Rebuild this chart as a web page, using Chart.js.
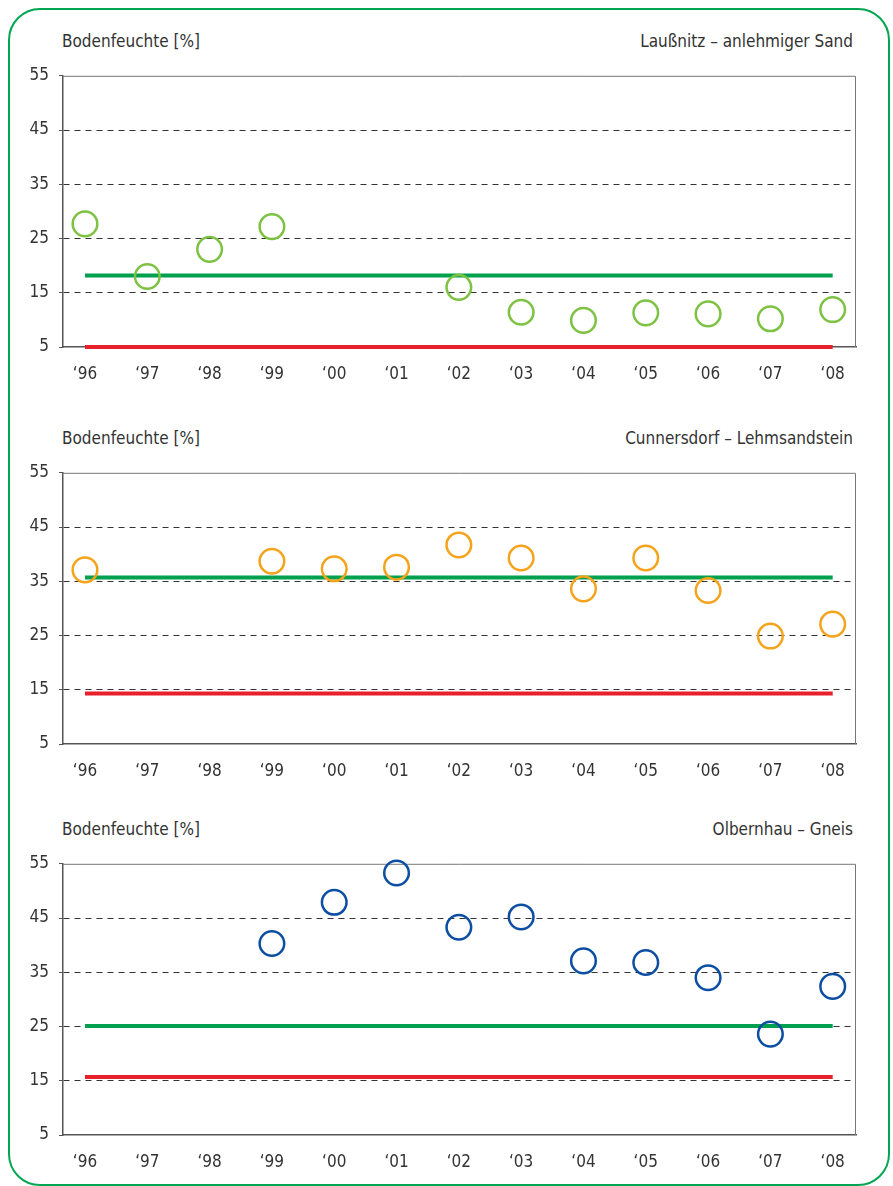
<!DOCTYPE html>
<html lang="de">
  <head>
    <meta charset="UTF-8" />
    <title>Bodenfeuchte</title>
    <script src="https://cdn.jsdelivr.net/npm/chart.js"></script>
    <style>
      body {
        margin: 0;
        background: #fff;
        width: 893px;
        height: 1186px;
        position: relative;
        overflow: hidden;
        font-family: "DejaVu Sans Condensed", "Liberation Sans", sans-serif;
        color: #333;
      }

      .frame {
        position: absolute;
        left: 8px;
        top: 8px;
        width: 882px;
        height: 1178px;
        border: 2.5px solid #00a651;
        border-radius: 32px;
        box-sizing: border-box;
      }

      .title {
        position: absolute;
        font-size: 17px;
        line-height: 18px;
        white-space: nowrap;
      }

      .title.left {
        left: 62px;
      }

      .title.right {
        right: 40px;
      }

      canvas {
        position: absolute;
        left: 0;
      }
    </style>
  </head>
  <body>
    <div class="frame"></div>

    <div class="title left" style="top: 32px">Bodenfeuchte [%]</div>
    <div class="title right" style="top: 32px">Laußnitz – anlehmiger Sand</div>
    <canvas id="chart1" width="893" height="326" style="top: 61px"></canvas>

    <div class="title left" style="top: 429px">Bodenfeuchte [%]</div>
    <div class="title right" style="top: 429px">Cunnersdorf – Lehmsandstein</div>
    <canvas id="chart2" width="893" height="326" style="top: 458px"></canvas>

    <div class="title left" style="top: 820px">Bodenfeuchte [%]</div>
    <div class="title right" style="top: 820px">Olbernhau – Gneis</div>
    <canvas id="chart3" width="893" height="326" style="top: 849px"></canvas>

    <script>
      const years = ["‘96", "‘97", "‘98", "‘99", "‘00", "‘01", "‘02", "‘03", "‘04", "‘05", "‘06", "‘07", "‘08"];
      const yTicks = [5, 15, 25, 35, 45, 55];

      // Laußnitz – anlehmiger Sand
      const laussnitz = [27.7, 18.0, 23.0, 27.2, null, null, 16.0, 11.4, 9.9, 11.3, 11.1, 10.2, 11.9];
      const laussnitzGreen = 18.2;
      const laussnitzRed = 5.0;

      // Cunnersdorf – Lehmsandstein
      const cunnersdorf = [37.1, null, null, 38.7, 37.3, 37.6, 41.7, 39.3, 33.6, 39.3, 33.3, 24.9, 27.1];
      const cunnersdorfGreen = 35.7;
      const cunnersdorfRed = 14.3;

      // Olbernhau – Gneis
      const olbernhau = [null, null, null, 40.3, 47.9, 53.3, 43.3, 45.2, 37.1, 36.8, 34.0, 23.6, 32.4];
      const olbernhauGreen = 25.1;
      const olbernhauRed = 15.7;

      const FONT = "'DejaVu Sans Condensed', 'Liberation Sans', sans-serif";

      // thin frame on top and right of the plot area
      const plotFrame = {
        id: "plotFrame",
        beforeDatasetsDraw(chart) {
          const { ctx, chartArea: a } = chart;
          ctx.save();
          ctx.strokeStyle = "#777";
          ctx.lineWidth = 1;
          ctx.beginPath();
          ctx.moveTo(a.left, a.top + 0.5);
          ctx.lineTo(a.right - 0.5, a.top + 0.5);
          ctx.lineTo(a.right - 0.5, a.bottom);
          ctx.stroke();
          ctx.restore();
        },
      };

      function levelLine(value, color) {
        return {
          type: "line",
          data: [
            { x: 0, y: value },
            { x: years.length - 1, y: value },
          ],
          borderColor: color,
          borderWidth: 4,
          borderCapStyle: "butt",
          pointRadius: 0,
          clip: false,
          order: 2,
        };
      }

      function makeChart(id, values, green, red, markerColor) {
        const points = values.map((v, i) => ({ x: i, y: v }));
        new Chart(document.getElementById(id), {
          type: "scatter",
          data: {
            datasets: [
              {
                data: points,
                showLine: false,
                pointStyle: "circle",
                pointRadius: 12.3,
                pointBorderWidth: 2.5,
                pointBorderColor: markerColor,
                pointBackgroundColor: "rgba(0,0,0,0)",
                clip: false,
                order: 1,
              },
              levelLine(green, "#00a04f"),
              levelLine(red, "#e8202a"),
            ],
          },
          options: {
            responsive: false,
            animation: false,
            events: [],
            layout: { padding: { top: 6, right: 37, bottom: 0, left: 0 } },
            plugins: {
              legend: { display: false },
              tooltip: { enabled: false },
            },
            scales: {
              x: {
                type: "linear",
                min: -0.353,
                max: 12.374,
                afterBuildTicks: (s) => {
                  s.ticks = years.map((_, i) => ({ value: i }));
                },
                afterFit: (s) => {
                  s.height = 40;
                  s.paddingLeft = 0;
                  s.paddingRight = 0;
                },
                grid: { display: false, drawTicks: false },
                border: { display: true, color: "#555", width: 1.5 },
                ticks: {
                  callback: (v) => years[v],
                  color: "#333",
                  padding: 17,
                  maxRotation: 0,
                  autoSkip: false,
                  font: { family: FONT, size: 17 },
                },
              },
              y: {
                min: 5,
                max: 55,
                afterBuildTicks: (s) => {
                  s.ticks = yTicks.map((v) => ({ value: v }));
                },
                afterFit: (s) => {
                  s.width = 63;
                  s.paddingTop = 0;
                  s.paddingBottom = 0;
                },
                grid: {
                  color: (c) =>
                    c.tick && (c.tick.value === 5 || c.tick.value === 55) ? "rgba(0,0,0,0)" : "#333",
                  lineWidth: 1,
                  tickLength: 4,
                  tickColor: "#555",
                  tickWidth: 1,
                },
                border: { display: true, color: "#555", width: 1.5, dash: [6, 5] },
                ticks: {
                  color: "#333",
                  padding: 10,
                  font: { family: FONT, size: 17 },
                },
              },
            },
          },
          plugins: [plotFrame],
        });
      }

      makeChart("chart1", laussnitz, laussnitzGreen, laussnitzRed, "#7dc242");
      makeChart("chart2", cunnersdorf, cunnersdorfGreen, cunnersdorfRed, "#f5a31a");
      makeChart("chart3", olbernhau, olbernhauGreen, olbernhauRed, "#0b4ea2");
    </script>
  </body>
</html>
